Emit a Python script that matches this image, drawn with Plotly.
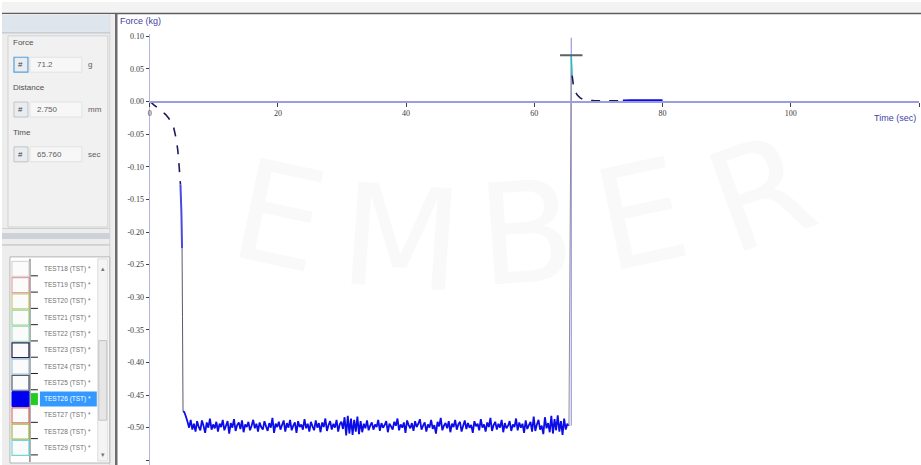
import plotly.graph_objects as go

# ---------------- data ----------------
# Loading phase: probe moving into the sample (time in s, force in kg)
init_time = [0.0, 0.3, 0.65, 1.3, 1.95, 2.5, 3.0, 3.4, 3.77, 4.0, 4.2, 4.39,
             4.6, 4.8, 4.95, 5.05, 5.12, 5.2]
init_force = [0.000, -0.002, -0.005, -0.010, -0.015, -0.020, -0.026, -0.033,
              -0.041, -0.051, -0.061, -0.075, -0.100, -0.127, -0.170, -0.225,
              -0.330, -0.475]

# Hold phase, sampled every 0.25 s from 5.4 s
plateau_start = 5.4
sample_interval = 0.25
plateau_force = [
    -0.476, -0.483, -0.491, -0.500, -0.488, -0.503, -0.494, -0.506, -0.490, -0.499,
    -0.504, -0.489, -0.497, -0.508, -0.492, -0.500, -0.486, -0.503, -0.495, -0.501,
    -0.491, -0.506, -0.494, -0.499, -0.488, -0.504, -0.497, -0.490, -0.509, -0.493,
    -0.500, -0.487, -0.505, -0.496, -0.492, -0.502, -0.489, -0.507, -0.495, -0.499,
    -0.491, -0.504, -0.497, -0.488, -0.501, -0.494, -0.506, -0.492, -0.499, -0.503,
    -0.490, -0.498, -0.505, -0.493, -0.500, -0.485, -0.508, -0.494, -0.499, -0.491,
    -0.503, -0.496, -0.489, -0.506, -0.493, -0.500, -0.488, -0.504, -0.497, -0.492,
    -0.508, -0.490, -0.499, -0.495, -0.503, -0.487, -0.501, -0.494, -0.506, -0.491,
    -0.498, -0.504, -0.489, -0.500, -0.493, -0.507, -0.492, -0.499, -0.486, -0.505,
    -0.496, -0.490, -0.503, -0.494, -0.500, -0.488, -0.506, -0.495, -0.491, -0.502,
    -0.484, -0.512, -0.482, -0.509, -0.486, -0.511, -0.488, -0.506, -0.483, -0.510,
    -0.490, -0.507, -0.494, -0.501, -0.489, -0.504, -0.497, -0.492, -0.503, -0.495,
    -0.499, -0.488, -0.505, -0.493, -0.500, -0.496, -0.490, -0.507, -0.494, -0.498,
    -0.503, -0.491, -0.497, -0.486, -0.504, -0.495, -0.500, -0.492, -0.508, -0.489,
    -0.496, -0.501, -0.493, -0.505, -0.490, -0.499, -0.494, -0.487, -0.503, -0.497,
    -0.492, -0.506, -0.495, -0.500, -0.488, -0.502, -0.496, -0.509, -0.491, -0.498,
    -0.485, -0.504, -0.497, -0.493, -0.501, -0.490, -0.507, -0.494, -0.499, -0.488,
    -0.503, -0.495, -0.491, -0.506, -0.497, -0.489, -0.502, -0.493, -0.500, -0.496,
    -0.508, -0.490, -0.498, -0.494, -0.504, -0.487, -0.500, -0.495, -0.506, -0.492,
    -0.499, -0.485, -0.505, -0.496, -0.491, -0.503, -0.494, -0.500, -0.488, -0.507,
    -0.493, -0.501, -0.497, -0.490, -0.505, -0.495, -0.499, -0.486, -0.504, -0.492,
    -0.500, -0.494, -0.508, -0.489, -0.502, -0.496, -0.491, -0.506, -0.483, -0.505,
    -0.495, -0.488, -0.503, -0.497, -0.510, -0.484, -0.501, -0.493, -0.507, -0.482,
    -0.509, -0.487, -0.504, -0.481, -0.506, -0.490, -0.511, -0.486, -0.503, -0.494,
    -0.497,
]

# Withdrawal phase: adhesive peak then relaxation back to zero
release_time = [65.76, 65.80, 65.90, 66.05, 66.2, 66.45, 66.7, 67.1, 67.6, 68.4,
                69.3, 71.0, 73.8, 75.0, 77.0, 80.0]
release_force = [0.0712, 0.060, 0.040, 0.028, 0.020, 0.014, 0.010, 0.006, 0.003,
                 0.002, 0.0015, 0.001, 0.0015, 0.002, 0.002, 0.002]

x_ticks = [0, 20, 40, 60, 80, 100, 120]
y_ticks = [0.10, 0.05, 0.00, -0.05, -0.10, -0.15, -0.20, -0.25, -0.30, -0.35,
           -0.40, -0.45, -0.50, -0.55]

readout_labels = ["Force", "Distance", "Time"]
readout_values = ["71.2", "2.750", "65.760"]
readout_units = ["g", "mm", "sec"]

test_names = ["TEST18 (TST) *", "TEST19 (TST) *", "TEST20 (TST) *", "TEST21 (TST) *",
              "TEST22 (TST) *", "TEST23 (TST) *", "TEST24 (TST) *", "TEST25 (TST) *",
              "TEST26 (TST) *", "TEST27 (TST) *", "TEST28 (TST) *", "TEST29 (TST) *"]
test_colors = ["#d8d8d8", "#e8a0a8", "#c8c878", "#98d898", "#a8e0c8", "#202050",
               "#a0c8e0", "#506070", "#0000f0", "#e07070", "#a8b848", "#70d8d8"]
selected_test = 8

# ---------------- geometry helpers ----------------
W, H = 921, 465


def px(x):
    return x / W


def py(y):
    return 1 - y / H


shapes = []
annotations = []


def rect(x0, y0, x1, y1, fill=None, line=None, lw=1):
    shapes.append(dict(type="rect", xref="paper", yref="paper",
                       x0=px(x0), x1=px(x1), y0=py(y1), y1=py(y0),
                       fillcolor=fill if fill else "rgba(0,0,0,0)",
                       line=dict(color=line if line else "rgba(0,0,0,0)", width=lw if line else 0),
                       layer="above"))


def seg(x0, y0, x1, y1, color, lw=1):
    shapes.append(dict(type="line", xref="paper", yref="paper",
                       x0=px(x0), x1=px(x1), y0=py(y0), y1=py(y1),
                       line=dict(color=color, width=lw), layer="above"))


def label(x, y, s, size=8, color="#555555", anchor="left", font="Liberation Sans"):
    annotations.append(dict(xref="paper", yref="paper", x=px(x), y=py(y), text=s,
                            showarrow=False, xanchor=anchor, yanchor="middle",
                            font=dict(size=size, color=color, family=font)))


# ---------------- window chrome ----------------
rect(0, 0, W, 11, fill="#f3f3f3")
seg(0, 11.5, W, 11.5, "#5e5e5e", 1.5)
rect(0, 12, 113, H, fill="#ededed")
seg(114.5, 12, 114.5, H, "#6c6c6c", 2.5)
seg(108, 12, 108, H, "#d4d4d4", 1)

# panel header band
rect(0, 13, 108, 30, fill="#dfe5ec")
seg(0, 31, 108, 31, "#b4bcc6", 1)

# readout group
rect(6, 34, 106, 226, fill="#f1f1f1", line="#d2d2d2")
for i, (name, val, unit) in enumerate(zip(readout_labels, readout_values, readout_units)):
    y0 = 41 + i * 45
    label(9, y0, name, size=8, color="#505050")
    by = y0 + 22
    rect(12, by - 7.5, 26, by + 7.5, fill="#e9edf1",
         line="#58a0d8" if i == 0 else "#b8b8b8", lw=1.2 if i == 0 else 0.8)
    label(19, by, "#", size=8, color="#404040", anchor="center")
    rect(28, by - 7.5, 80, by + 7.5, fill="#f7f7f7", line="#e2e2e2")
    label(33, by, val, size=8, color="#606060")
    label(84, by, unit, size=8, color="#606060")

# splitter
seg(0, 227.5, 108, 227.5, "#cfcfcf", 1)
rect(0, 232, 108, 238, fill="#cdd2d8")
seg(0, 244, 108, 244, "#bcbcbc", 1)

# test list
rect(8, 256, 108, 463, fill="#ffffff", line="#b4b4b4", lw=1)
seg(28, 258, 28, 462, "#505050", 1)
row0, row_h = 268.0, 16.35
for i, (name, col) in enumerate(zip(test_names, test_colors)):
    yc = row0 + i * row_h
    if i == selected_test:
        rect(10, yc - 7.5, 27, yc + 7.5, fill=col, line=col)
        rect(29, yc - 6, 36, yc + 6, fill="#22cc22")
        rect(38, yc - 7.5, 95, yc + 7.5, fill="#3399ff")
        label(40, yc, name, size=6.5, color="#ffffff")
    else:
        rect(10, yc - 7.5, 27, yc + 7.5, fill="#fbfbfb", line=col, lw=1.2)
        seg(29, yc + 7, 36, yc + 7, "#202020", 1)
        label(40, yc, name, size=6.5, color="#707070")

# list scrollbar
rect(96, 258, 106, 461, fill="#f4f4f4", line="#dcdcdc")
rect(97, 340, 105, 420, fill="#e6e6e6", line="#c4c4c4")
label(101, 268, "▴", size=7, color="#777777", anchor="center")
label(101, 454, "▾", size=7, color="#777777", anchor="center")

# faint background lettering
for ch, (cx, cy, ang) in zip("EMBER", [(278, 215, 12), (400, 238, 4), (525, 232, -4),
                                       (640, 214, -12), (760, 192, -20)]):
    annotations.append(dict(xref="paper", yref="paper", x=px(cx), y=py(cy), text=ch,
                            showarrow=False, textangle=ang, xanchor="center",
                            yanchor="middle",
                            font=dict(size=140, color="rgba(120,120,120,0.045)",
                                      family="DejaVu Sans")))

# axis captions
label(116, 19, "Force (kg)", size=9, color="#4242a8")
label(918, 117, "Time (sec)", size=9, color="#4242a8", anchor="right")

# ---------------- traces ----------------
plateau_time = [plateau_start + i * sample_interval for i in range(len(plateau_force))]

navy = "#1b1b5c"
blue = "#0c0ce8"
gray = "#5a5a6a"

fig = go.Figure()


def trace(xs, ys, color, width, dash="solid"):
    fig.add_trace(go.Scatter(x=xs, y=ys, mode="lines", showlegend=False,
                             hoverinfo="skip",
                             line=dict(color=color, width=width, dash=dash,
                                       simplify=False)))


# loading curve
trace(init_time[:14], init_force[:14], navy, 1.6, "dash")
trace(init_time[13:16], init_force[13:16], "#4a4ae0", 2)
trace(init_time[15:], init_force[15:], gray, 1)
# hold plateau
trace(init_time[-1:] + plateau_time, init_force[-1:] + plateau_force, blue, 1.8)
# snap back to the adhesive peak
trace(plateau_time[-1:] + release_time[:1], plateau_force[-1:] + release_force[:1],
      "#8c8c9c", 1)
# relaxation
trace(release_time[:3], release_force[:3], "#22c0c0", 1.5)
trace(release_time[2:13], release_force[2:13], navy, 1.6, "dash")
trace(release_time[12:], release_force[12:], blue, 2)

# cursor crosshair at the peak reading
peak_t, peak_f = release_time[0], release_force[0]
fig.add_shape(type="line", xref="x", yref="y", x0=peak_t, x1=peak_t,
              y0=plateau_force[-1], y1=0.098,
              line=dict(color="#9a9adc", width=1.2), layer="below")
fig.add_shape(type="line", xref="x", yref="y", x0=peak_t - 1.75, x1=peak_t + 1.75,
              y0=peak_f, y1=peak_f, line=dict(color="#5a6262", width=2))

for s in shapes:
    fig.add_shape(**s)

y_top_px, y_zero_px = 32, 100
scale = 655.0  # px per kg
y_hi = (y_zero_px - y_top_px) / scale
y_lo = -(H - y_zero_px) / scale

fig.update_layout(
    width=W, height=H,
    margin=dict(l=0, r=0, t=0, b=0),
    paper_bgcolor="#ffffff",
    plot_bgcolor="#ffffff",
    annotations=annotations,
    xaxis=dict(domain=[148 / W, 919 / W], range=[0, 120], anchor="free",
               position=py(y_zero_px), showgrid=False, zeroline=False,
               showline=True, linecolor="#9c9ce0", linewidth=2,
               tickvals=x_ticks, ticktext=[str(v) for v in x_ticks],
               ticks="outside", ticklen=4, tickcolor="#404040", tickwidth=1,
               tickfont=dict(size=8, color="#3a3a3a", family="Liberation Serif")),
    yaxis=dict(domain=[0, py(y_top_px)], range=[y_lo, y_hi], showgrid=False,
               zeroline=False, showline=True, linecolor="#b4b4e2", linewidth=1,
               tickvals=y_ticks, ticktext=[f"{v:.2f}" for v in y_ticks],
               ticks="outside", ticklen=3, tickcolor="#404040",
               tickfont=dict(size=8, color="#3a3a3a", family="Liberation Serif")),
)

fig.write_html("out.html")
